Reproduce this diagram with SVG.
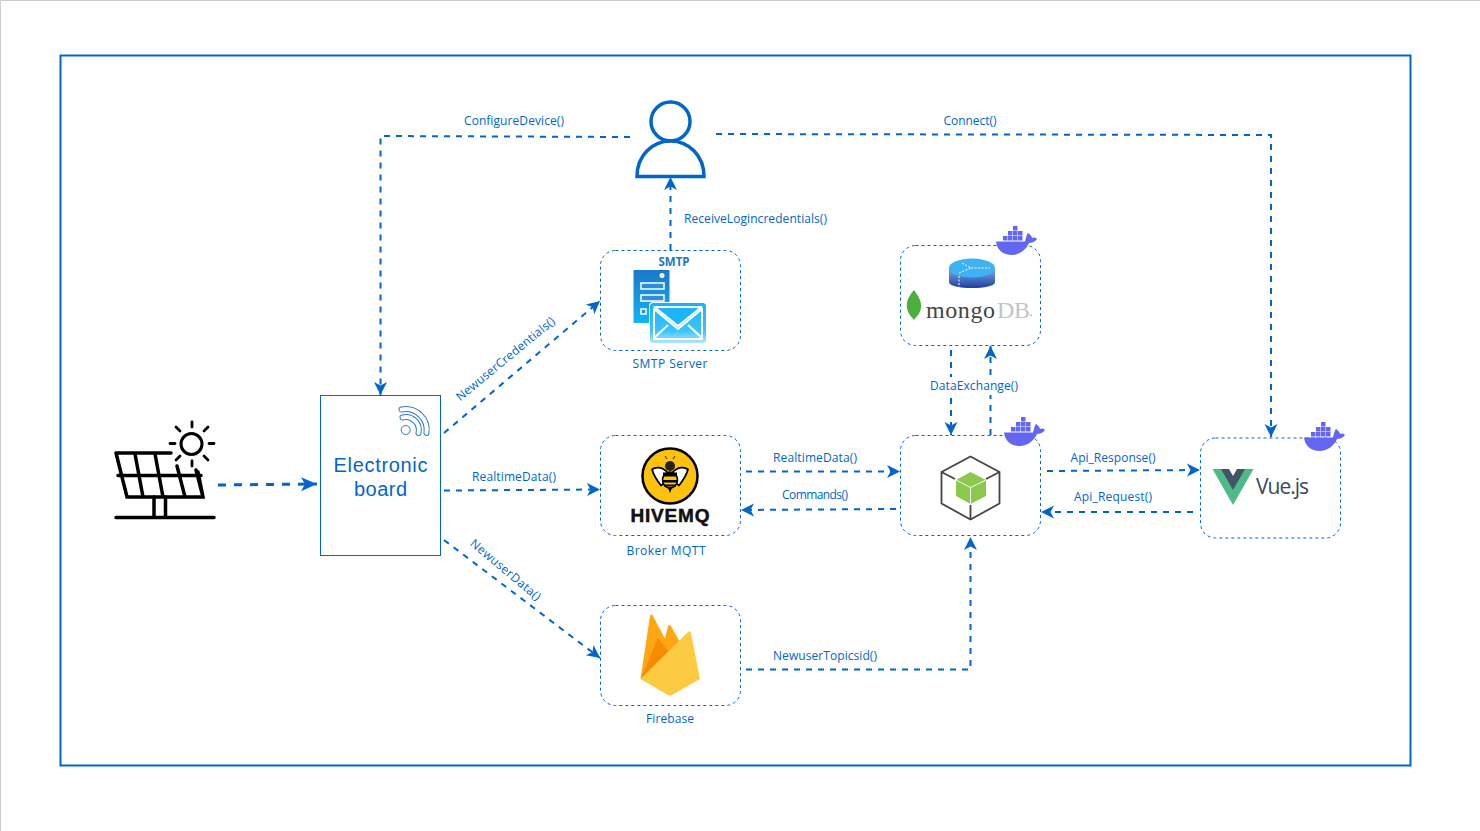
<svg xmlns="http://www.w3.org/2000/svg" width="1480" height="831" viewBox="0 0 1480 831">
<style>
.lbl{font-family:"Open Sans","Noto Sans",sans-serif;font-size:12px;fill:#0066cc;text-anchor:middle}
.brd{font-family:"Liberation Sans",sans-serif;font-size:20px;fill:#0066cc;text-anchor:middle}
.box{fill:#fff;stroke:#0066cc;stroke-width:1;stroke-dasharray:3 3}
.con{fill:none;stroke:#0066cc;stroke-width:2;stroke-dasharray:6 6;marker-end:url(#ah)}
</style>
<defs>
<marker id="ah" markerUnits="userSpaceOnUse" markerWidth="16" markerHeight="16" refX="13" refY="8" orient="auto"><path d="M0 1.500L13 8L0 14.500L3.500 8Z" fill="#0066cc"/></marker>
<marker id="ah2" markerUnits="userSpaceOnUse" markerWidth="18" markerHeight="18" refX="16" refY="9" orient="auto"><path d="M0 2L16 9L0 16L4 9Z" fill="#0066cc"/></marker>
<g id="whale" fill="#6366f1">
<path d="M-20 3.500H9C10 -1 11 -4 12 -5C15 -3 16 -1 16 0C18 -1 20 -.5 21 1C19 4 15 5 13 5C10 12 3 17 -4 17C-13 17 -19 12 -20 3.500Z"/>
<path d="M-13 -2h4.500v4.500h-4.500zM-8 -2h4.500v4.500h-4.500zM-3 -2h4.500v4.500h-4.500zM2 -2h4.500v4.500h-4.500zM-8 -7h4.500v4.500h-4.500zM-3 -7h4.500v4.500h-4.500zM2 -7h4.500v4.500h-4.500zM-3 -12h4.500v4.500h-4.500z"/>
</g>
<linearGradient id="g1" x1="0" y1="0" x2="0" y2="1"><stop offset="0" stop-color="#1a78c8"/><stop offset="1" stop-color="#11b5f5"/></linearGradient>
<linearGradient id="g2" x1="0" y1="0" x2="0" y2="1"><stop offset="0" stop-color="#14b4fa"/><stop offset=".7" stop-color="#3cc4fb"/><stop offset="1" stop-color="#b4e6f8"/></linearGradient>
<linearGradient id="g3" x1="0" y1="0" x2="0" y2="1"><stop offset="0" stop-color="#7ab0ea"/><stop offset="1" stop-color="#1f3fa0"/></linearGradient>
</defs>
<rect width="1480" height="831" fill="#fff"/>
<path d="M.5 831V.5H1480" fill="none" stroke="#ccc"/>
<rect id="frame" x="60.500" y="55.500" width="1350" height="710" fill="none" stroke="#0066cc" stroke-width="2"/>

<g id="connectors">
<path class="con" style="stroke-width:3;stroke-dasharray:8 8;marker-end:url(#ah2)" d="M218 485L317 484"/>
<path class="con" d="M630 137L380.500 136V395"/>
<path class="con" d="M716 134L1271 135V437"/>
<path class="con" d="M670.500 250V177"/>
<path class="con" d="M444 433L600 301"/>
<path class="con" d="M444 490.500L600 489.500"/>
<path class="con" d="M444 540L600 658"/>
<path class="con" d="M746 471.500H900"/>
<path class="con" d="M896 509L741 510"/>
<path class="con" d="M1047 471L1200 470"/>
<path class="con" d="M1193 512H1041"/>
<path class="con" d="M746 669.500H970.500V537"/>
<path class="con" d="M951 350V435"/>
<path class="con" d="M990.500 435V346"/>
</g>

<g id="solar" fill="none" stroke="#000" stroke-width="3.500" stroke-linecap="round">
<circle cx="191.500" cy="444" r="10.500" stroke-width="3"/>
<path d="M192 422v5M192 461v5M170 443.500h5M209 443.500h5M176 427l4 4M204 456l4 4M208 427l-4 4M180 456l-4 4" stroke-width="2.800"/>
<path d="M116 453H171M116 453L127 497H203L198 472M118 475.500H201M135 454L143 497M155 454L163 497M177 466L185 497M196 470L203 497"/>
<path d="M154 497V517.500M165.500 497V517.500M116 517.500H214"/>
</g>

<g id="board">
<rect x="320.500" y="395.500" width="120" height="160" fill="#fff" stroke="#0066cc"/>
<text class="brd" x="380.500" y="472" textLength="94">Electronic</text>
<text class="brd" x="380.500" y="496" textLength="53">board</text>
<circle cx="405.700" cy="430" r="4.500" fill="none" stroke="#2a7bd0"/>
<path d="M402.500 417.500A13 13 0 0 1 418.500 433M401.500 409.500A21 21 0 0 1 426.500 433" fill="none" stroke="#2a7bd0" stroke-width="6" stroke-linecap="round"/>
<path d="M402.500 417.500A13 13 0 0 1 418.500 433M401.500 409.500A21 21 0 0 1 426.500 433" fill="none" stroke="#fff" stroke-width="4" stroke-linecap="round"/>
</g>

<g id="user" fill="none" stroke="#0066cc" stroke-width="3.500">
<circle cx="670.500" cy="121.500" r="19.500"/>
<path d="M637 176.500C637 156 652 141 670.500 141C689 141 704 156 704 176.500Z" fill="#fff"/>
</g>

<g id="smtp">
<rect class="box" x="600.500" y="250.500" width="140" height="100" rx="15"/>
<text x="674" y="266" style="font-family:'Open Sans',sans-serif;font-size:11.500px;font-weight:700;fill:#1a78c8;text-anchor:middle">SMTP</text>
<rect x="633.500" y="270" width="36" height="53" rx="1" fill="url(#g1)"/>
<circle cx="662" cy="275.500" r="2.500" fill="#fff"/>
<path d="M641 283h23v6h-23zM641 295h23v6h-23zM641 309h5v5h-5z" fill="#2a8fdc" stroke="#fff" stroke-width="1.500"/>
<rect x="649" y="302" width="58" height="42" rx="4" fill="#fff"/>
<rect x="650" y="303" width="56" height="40" rx="3.500" fill="url(#g2)"/>
<path d="M654.500 307H701.500L678 326Z" fill="#1bb6fa" stroke="#fff" stroke-width="2" stroke-linejoin="round"/>
<path d="M654 309L678 329L702 309M654 338L668 325M702 338L688 325M654 308V339H702V308" fill="none" stroke="#fff" stroke-width="2"/>
</g>
<text class="lbl" x="670" y="368" textLength="75">SMTP Server</text>

<g id="mongodb">
<rect class="box" x="900.500" y="245.500" width="140" height="100" rx="15"/>
<path d="M949 268V282C949 286 960 288 972 288C984 288 995 286 995 282V268Z" fill="url(#g3)"/>
<ellipse cx="972" cy="268" rx="23" ry="9.500" fill="#3fb2f3"/>
<path d="M962 263L971 268H990M959 273L971 268M959 276V287" fill="none" stroke="#fff" stroke-dasharray="2 1.500"/>
<path d="M914 290C908 297 906 302 907 308C908 314 911 316 914 320C917 316 920 314 921 308C922 302 919 297 914 290Z" fill="#4caf3e"/>
<text x="926" y="318" style="font-family:'Liberation Serif',serif;font-size:24px;fill:#444" textLength="69">mongo</text>
<text x="997" y="318" style="font-family:'Liberation Serif',serif;font-size:24px;fill:#c4c4c4" textLength="33">DB</text>
<circle cx="1031" cy="315" r="1" fill="#bbb"/>
<use href="#whale" x="1016" y="238"/>
</g>

<g id="hivemq">
<rect class="box" x="600.500" y="435.500" width="140" height="100" rx="15"/>
<circle cx="670" cy="476" r="27.500" fill="#fdc20d" stroke="#000" stroke-width="2.500"/>
<path d="M668 473C662 466 655 467 652 469.500C654 476 659 483 661 485.500C664 484 666 480 668 477ZM672 473C678 466 685 467 688 469.500C686 476 681 483 679 485.500C676 484 674 480 672 477Z" fill="#fff" stroke="#000" stroke-width="1.800" stroke-linejoin="round"/>
<circle cx="670" cy="466" r="5" fill="#222"/>
<path d="M667 459L665 456M673 459L675 456" stroke="#222"/>
<ellipse cx="670" cy="480" rx="7.500" ry="8" fill="#fdc20d" stroke="#000" stroke-width="1.500"/>
<path d="M663 472.500h14v4h-14zM662.500 480h15v2.500h-15zM664 484.500h12v2h-12zM668 488h4l-2 5z" fill="#000"/>
<text x="670" y="522" style="font-family:'Liberation Sans',sans-serif;font-size:19px;font-weight:700;fill:#111;text-anchor:middle;stroke:#111;stroke-width:.5" textLength="79">HIVEMQ</text>
</g>
<text class="lbl" x="666" y="555" textLength="79">Broker MQTT</text>

<g id="nodejs">
<rect class="box" x="900.500" y="435.500" width="140" height="100" rx="15"/>
<path d="M970.500 456.500L999.500 472V503.500L970.500 519.500L941.500 503.500V472ZM941.500 472L955 479M999.500 472L986 479M970.500 505V519" fill="none" stroke="#444" stroke-width="1.800"/>
<path d="M970.500 472L986 480V496L970.500 504L956 496V480Z" fill="#8cc84b"/>
<path d="M956 480L970.500 487.500L986 480M970.500 487.500V504" fill="none" stroke="#fff"/>
<use href="#whale" x="1024" y="429"/>
</g>

<g id="vuejs">
<rect class="box" x="1200.500" y="438" width="140" height="100" rx="15"/>
<path d="M1212.500 469H1253.500L1233 505Z" fill="#4dba87"/>
<path d="M1221 469H1245L1233 490Z" fill="#435466"/>
<path d="M1229 469H1237L1233 476Z" fill="#fff"/>
<text x="1256" y="494" style="font-family:'Open Sans',sans-serif;font-size:21px;fill:#35495e" textLength="53">Vue.js</text>
<use href="#whale" x="1324" y="434"/>
</g>

<g id="firebase">
<rect class="box" x="600.500" y="605.500" width="140" height="100" rx="15"/>
<path d="M640.500 679L650 616Q651 613 653 616L672 652Z" fill="#ffa712"/>
<path d="M668 626Q669 624 671 626L681 644L660 660Z" fill="#ffa712"/>
<path d="M640.500 679L658 638L672 656L681 645Z" fill="#f58c06"/>
<path d="M640.500 679L688 632Q690 630 691 633L700 679L672 695Q670 696 668 695Z" fill="#fdcb41"/>
</g>
<text class="lbl" x="670" y="723" textLength="48">Firebase</text>

<g id="labels">
<text class="lbl" x="514" y="125" textLength="100">ConfigureDevice()</text>
<text class="lbl" x="970" y="125" textLength="53">Connect()</text>
<text class="lbl" x="755.500" y="223" textLength="143">ReceiveLogincredentials()</text>
<text class="lbl" transform="translate(508 362) rotate(-39.500)" textLength="124">NewuserCredentials()</text>
<text class="lbl" x="514" y="481" textLength="84">RealtimeData()</text>
<text class="lbl" transform="translate(503 573) rotate(40)" textLength="88">NewuserData()</text>
<text class="lbl" x="815" y="462" textLength="84">RealtimeData()</text>
<text class="lbl" x="815" y="499" textLength="66">Commands()</text>
<rect x="928" y="377" width="92" height="18" fill="#fff"/>
<text class="lbl" x="974" y="390" textLength="88">DataExchange()</text>
<text class="lbl" x="1113" y="462" textLength="85">Api_Response()</text>
<text class="lbl" x="1113" y="501" textLength="78">Api_Request()</text>
<text class="lbl" x="825" y="660" textLength="104">NewuserTopicsid()</text>
</g>
</svg>
